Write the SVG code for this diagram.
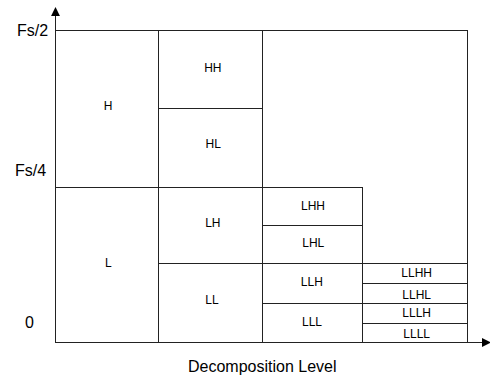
<svg xmlns="http://www.w3.org/2000/svg" width="490" height="377" viewBox="0 0 490 377">
<style>
.b{fill:none;stroke:#222;stroke-width:1}
.t{font-family:"Liberation Sans",Arial,sans-serif;font-size:12px;fill:#000;text-anchor:middle}
.a{font-family:"Liberation Sans",Arial,sans-serif;font-size:16px;fill:#000}
.ax{fill:none;stroke:#222;stroke-width:1}
</style>
<defs>
<marker id="arr" viewBox="0 0 10 10" refX="9" refY="5" markerWidth="9" markerHeight="9" markerUnits="userSpaceOnUse" orient="auto">
<path d="M0,0 L10,5 L0,10 z" fill="#000"/>
</marker>
</defs>
<rect width="490" height="377" fill="#fff"/>
<g id="connectors">
<line class="ax" x1="55.5" y1="342.5" x2="55.5" y2="8" marker-end="url(#arr)"/>
<line class="ax" x1="55.5" y1="342.5" x2="490" y2="342.5" marker-end="url(#arr)"/>
</g>
<g id="axis-labels">
<text class="a" x="17" y="35.7">Fs/2</text>
<text class="a" x="15" y="175.7">Fs/4</text>
<text class="a" x="25" y="328.3">0</text>
<text class="a" x="188" y="371.5">Decomposition Level</text>
</g>
<g id="outer"><rect class="b" x="262.5" y="30.5" width="205" height="312"/></g>
<g id="H"><rect class="b" x="55.5" y="30.5" width="103" height="157"/><text class="t" x="108" y="109.7">H</text></g>
<g id="HH"><rect class="b" x="158.5" y="30.5" width="104" height="78"/><text class="t" x="212.8" y="72.3">HH</text></g>
<g id="HL"><rect class="b" x="158.5" y="108.5" width="104" height="79"/><text class="t" x="213.2" y="148.3">HL</text></g>
<g id="L"><rect class="b" x="55.5" y="187.5" width="103" height="155"/><text class="t" x="108.3" y="267.3">L</text></g>
<g id="LH"><rect class="b" x="158.5" y="187.5" width="104" height="76"/><text class="t" x="212.8" y="226.7">LH</text></g>
<g id="LL"><rect class="b" x="158.5" y="263.5" width="104" height="79"/><text class="t" x="212" y="304">LL</text></g>
<g id="LHH"><rect class="b" x="262.5" y="187.5" width="100" height="38"/><text class="t" x="313" y="210">LHH</text></g>
<g id="LHL"><rect class="b" x="262.5" y="225.5" width="100" height="38"/><text class="t" x="313.3" y="246.7">LHL</text></g>
<g id="LLH"><rect class="b" x="262.5" y="263.5" width="100" height="40"/><text class="t" x="311.8" y="286">LLH</text></g>
<g id="LLL"><rect class="b" x="262.5" y="303.5" width="100" height="39"/><text class="t" x="312" y="326">LLL</text></g>
<g id="LLHH"><rect class="b" x="362.5" y="263.5" width="105" height="20"/><text class="t" x="416.7" y="276.7">LLHH</text></g>
<g id="LLHL"><rect class="b" x="362.5" y="283.5" width="105" height="20"/><text class="t" x="416.7" y="298.7">LLHL</text></g>
<g id="LLLH"><rect class="b" x="362.5" y="303.5" width="105" height="20"/><text class="t" x="416.7" y="317.3">LLLH</text></g>
<g id="LLLL"><rect class="b" x="362.5" y="323.5" width="105" height="19"/><text class="t" x="416.7" y="338">LLLL</text></g>
</svg>
